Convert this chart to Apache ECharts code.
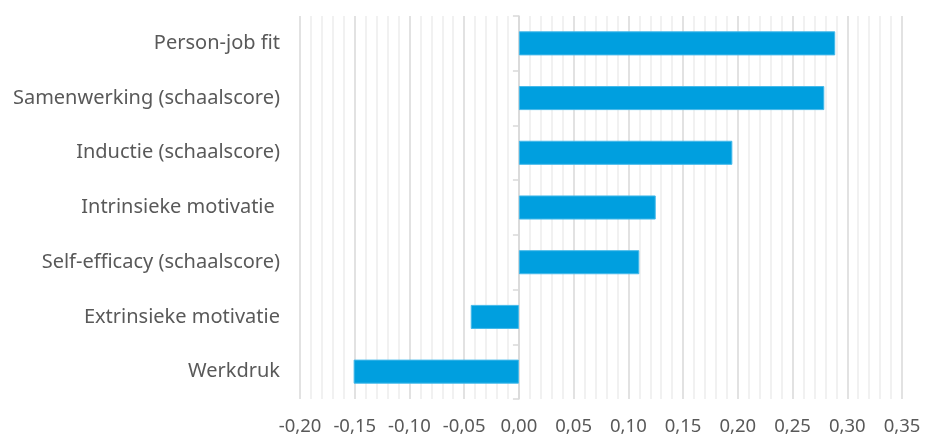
<!DOCTYPE html>
<html><head><meta charset="utf-8">
<script src="https://cdn.jsdelivr.net/npm/echarts@6/dist/echarts.min.js"></script>
<style>html,body{margin:0;padding:0;background:#fff}#c{width:926px;height:439px}</style>
</head><body><div id="c"></div>
<script>
const categories = ["Person-job fit","Samenwerking (schaalscore)","Inductie (schaalscore)","Intrinsieke motivatie ","Self-efficacy (schaalscore)","Extrinsieke motivatie","Werkdruk"];
const values = [0.289, 0.279, 0.195, 0.125, 0.110, -0.044, -0.151];
const xMin = -0.20, xMax = 0.35, xStep = 0.05;

const chart = echarts.init(document.getElementById('c'));
chart.setOption({
  animation:false,
  grid:{left:300,right:24,top:16,bottom:40,containLabel:false,outerBoundsMode:'none'},
  xAxis:{type:'value',min:xMin,max:xMax,interval:xStep,
    axisLine:{show:false},axisTick:{show:false},
    axisLabel:{color:'#595959',fontFamily:'Noto Sans',fontSize:18.5,margin:18,
      formatter:v=>v.toFixed(2).replace('.',',')},
    splitLine:{show:true,lineStyle:{color:'#d9d9d9',width:1.5}},
    minorTick:{show:false,splitNumber:5},
    minorSplitLine:{show:true,lineStyle:{color:'#ededed',width:1.5}}
  },
  yAxis:{type:'category',data:categories,inverse:true,
    axisLine:{show:true,onZero:true,lineStyle:{color:'#d9d9d9',width:1.5}},
    axisTick:{show:true,length:6,lineStyle:{color:'#d9d9d9',width:1.5}},
    axisLabel:{color:'#595959',fontFamily:'Noto Sans',fontSize:20,margin:20}
  },
  series:[{type:'bar',data:values,barWidth:'44%',
    itemStyle:{color:'#009FDF',borderColor:'#45b9ea',borderWidth:1}}]
});
</script></body></html>
